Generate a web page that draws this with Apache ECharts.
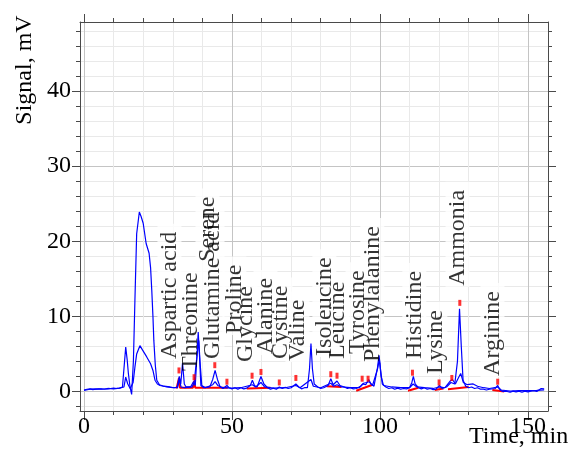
<!DOCTYPE html>
<html>
<head>
<meta charset="utf-8">
<title>Amino acid chromatogram</title>
<script src="https://cdn.jsdelivr.net/npm/echarts@6/dist/echarts.min.js"></script>
<style>
  html, body { margin: 0; padding: 0; background: #fff; }
  #chart { width: 572px; height: 451px; }
</style>
</head>
<body>
<div id="chart"></div>
<script>
"use strict";

// chromatogram trace, strong channel [time min, signal mV]
var traceMain = [
  [0, 0.2], [1, 0.3], [1.5, 0.2], [2, 0.35], [3, 0.25], [3.5, 0.4], [4, 0.3], [5, 0.35],
  [5.5, 0.2], [6, 0.35], [7, 0.3], [7.5, 0.45], [8, 0.35], [9, 0.4], [9.5, 0.3],
  [10, 0.45], [11, 0.4], [11.5, 0.55], [12, 0.45], [13, 0.6], [13.6, 0.8],
  [14.1, 5.9], [14.6, 4.2], [15, 2.4], [15.6, 0.5], [16.1, -0.4], [16.7, 4.1],
  [17.2, 12], [17.8, 21], [18.7, 23.9], [19.3, 23.3], [20, 22.4], [21, 19.7],
  [22, 18.4], [22.5, 16.5], [22.9, 13.5], [23.3, 10], [23.6, 6.8], [24.1, 3.5],
  [24.6, 1.5], [25.5, 0.9], [27, 0.7], [29, 0.6], [30.5, 0.5],
  [31.5, 0.6], [32.2, 2.0], [32.7, 1.0], [33.3, 3.8], [33.9, 1.0], [34.5, 0.6],
  [36, 0.6], [37, 1.3], [37.6, 0.8], [38.2, 5], [38.6, 7.9], [39, 5], [39.5, 0.8],
  [40.5, 0.5], [42.5, 0.6], [43.5, 1.6], [44.3, 2.8], [45.1, 1.6], [46, 0.6],
  [47, 0.4], [48.3, 0.8], [49, 0.5], [50, 0.35], [51, 0.5], [52, 0.3], [53, 0.5],
  [54, 0.35], [55, 0.45], [56.2, 0.8], [56.9, 1.5], [57.6, 0.8], [58.5, 0.6],
  [59.8, 2.0], [60.8, 1.0], [62, 0.5], [63, 0.3], [64, 0.45], [65, 0.3], [66, 0.6],
  [67, 0.4], [68, 0.55], [69, 0.4], [70, 0.5], [71.6, 1.0], [72.6, 0.6], [73.5, 0.35],
  [74.5, 0.5], [75.5, 0.5], [76.2, 3], [76.7, 6.4], [77.2, 3], [77.8, 1.0], [79, 0.6],
  [80, 0.4], [81, 0.5], [82.5, 0.8], [83.4, 1.7], [84.2, 0.9], [85.5, 1.4], [86.5, 0.8],
  [88, 0.6], [89, 0.4], [90, 0.5], [91, 0.35], [92, 0.4], [93.5, 0.7], [94.2, 1.0],
  [95.2, 0.9], [96.2, 1.6], [97, 1.0], [98, 0.7], [99.2, 3.2], [99.7, 4.8], [100.2, 3.0],
  [100.8, 1.0], [102, 0.6], [103, 0.4], [104, 0.5], [105, 0.3], [106, 0.45], [107, 0.3],
  [108, 0.4], [109, 0.35], [110, 0.5], [110.8, 1.2], [111.3, 2.0], [111.9, 1.0],
  [113, 0.5], [114, 0.35], [115, 0.5], [116, 0.3], [117, 0.4], [118, 0.25], [119, 0.3],
  [120.1, 0.8], [121, 0.4], [122.5, 0.6], [124, 1.2], [124.6, 1.4], [125.3, 1.0],
  [126.2, 4], [126.9, 11.0], [127.5, 6], [128.1, 1.5], [129, 0.7], [130, 0.5],
  [131, 0.6], [132, 0.4], [133, 0.5], [134, 0.3], [135, 0.3], [136, 0.2], [137, 0.3],
  [139, 0.4], [139.8, 0.8], [140.6, 0.2], [141.5, 0.0], [142, -0.1], [143, 0.0],
  [144, -0.1], [145, 0.05], [146, -0.05], [147, 0.05], [148, -0.1], [149, 0.05],
  [150, -0.05], [151, 0.05], [152, 0.1], [153, 0.0], [153.5, 0.05], [154.5, 0.4],
  [155.5, 0.35]
];

// second (weaker) channel
var traceSecond = [
  [0, 0.15], [2, 0.3], [4, 0.35], [6, 0.3], [8, 0.4], [10, 0.35], [12, 0.45],
  [13.5, 0.6], [14.1, 1.9], [14.8, 1.0], [15.6, 0.4], [16.6, 1.2], [17.2, 3.2],
  [17.8, 5.0], [18.9, 6.1], [19.8, 5.5], [21.2, 4.6], [22.5, 3.7], [23.3, 2.8],
  [24, 1.5], [24.8, 1.0], [25.7, 0.8], [28, 0.6], [30, 0.5], [31.6, 0.5],
  [32.2, 1.6], [32.8, 0.6], [34, 0.5], [36.5, 0.6], [37.2, 1.1], [37.8, 1.3],
  [38.4, 5.5], [38.8, 6.8], [39.2, 4], [39.8, 0.8], [41, 0.5], [43.5, 0.9],
  [44.3, 1.3], [45.2, 0.8], [47, 0.5], [50, 0.45], [53, 0.5], [56.9, 0.9], [58, 0.6],
  [59.8, 1.2], [61, 0.6], [64, 0.45], [68, 0.5], [71.6, 0.8], [73, 0.5], [76.7, 1.6],
  [77.5, 0.7], [80, 0.5], [83.4, 1.1], [84.3, 0.7], [85.5, 0.9], [87, 0.6], [90, 0.5],
  [93, 0.5], [94.5, 1.1], [95.5, 1.2], [96.3, 1.3], [97.5, 0.8], [99.2, 3.0],
  [99.8, 4.3], [100.4, 2.0], [101.2, 0.8], [104, 0.6], [107, 0.5], [110, 0.5],
  [111.2, 1.0], [112.5, 0.6], [115, 0.5], [118, 0.4], [120.1, 0.6], [122, 0.5],
  [123.8, 1.4], [124.5, 1.6], [125.5, 1.0], [126.5, 1.8], [127.3, 2.4], [128.2, 1.2],
  [129.5, 0.9], [131.5, 1.0], [133, 0.7], [135, 0.5], [137, 0.4], [139.8, 0.6],
  [141, 0.2], [144, 0.05], [147, 0.1], [150, 0.1], [153, 0.15], [155.5, 0.2]
];

// integration baselines (red), null breaks the segments
var baselines = [
  [31.3, 0.4], [31.8, 0.5], [32.1, 1.8], [32.4, 0.5], [36.8, 0.5], [37.2, 1.4],
  [37.6, 0.5], [44, 0.5], [48.6, 0.5], null,
  [55, 0.4], [63, 0.5], null,
  [82, 0.7], [87, 0.6], null,
  [92, 0.1], [97.5, 0.9], null,
  [109.5, 0.1], [113, 0.5], null,
  [118.5, 0.2], [121.5, 0.4], null,
  [123, 0.3], [130, 0.6], null,
  [138, 0.2], [142, 0.0]
];

// peak top markers
var peakMarks = [
  [32.1, 2.8], [37.2, 1.9], [44.2, 3.5], [48.3, 1.3], [56.8, 2.1], [59.8, 2.6],
  [66, 1.2], [71.6, 1.8], [83.4, 2.3], [85.5, 2.1], [94, 1.7], [96, 1.7],
  [111, 2.5], [120, 1.2], [124.3, 1.8], [127, 11.8], [139.8, 1.3]
];

// peak names and where their text starts
var peakNames = [
  "Aspartic acid", "Threonine", "Serene", "Glutamine acid", "Proline", "Glycine",
  "Alanine", "Cystine", "Valine", "Isoleucine", "Leucine", "Tyrosine",
  "Phenylalanine", "Histidine", "Lysine", "Ammonia", "Arginine"
];
var nameAnchors = [
  [29.05, 4.13], [36.1, 2.53], [41.9, 17.07], [43.6, 4.13], [51.0, 7.47],
  [54.7, 3.73], [61.5, 4.8], [66.6, 4.13], [72.3, 3.87], [81.4, 4.53],
  [85.8, 4.13], [92.6, 4.8], [97.6, 3.73], [111.8, 4.13], [118.9, 2.13],
  [126.4, 13.87], [138.2, 1.87]
];

// axis ticks
var xMinorTicks = [0, 10, 20, 30, 40, 50, 60, 70, 80, 90, 100, 110, 120, 130, 140, 150];
var xMajorTicks = [0, 50, 100, 150];
var yMinorTicks = [-2, 0, 2, 4, 6, 8, 10, 12, 14, 16, 18, 20, 22, 24, 26, 28, 30,
  32, 34, 36, 38, 40, 42, 44, 46, 48];
var yMajorTicks = [0, 10, 20, 30, 40];

var X_MIN = -1.35, X_MAX = 156.8;
var Y_MIN = -2.6, Y_MAX = 49.2;
var SERIF = "'Liberation Serif', 'Times New Roman', Times, serif";
var FRAME = "#4a4a4a";

function makeAxis(kind, position, ticks, tickLen, showLine, labels, splitColor) {
  return {
    type: "value",
    position: position,
    min: kind === "x" ? X_MIN : Y_MIN,
    max: kind === "x" ? X_MAX : Y_MAX,
    axisLine: { show: showLine, onZero: false, lineStyle: { color: FRAME, width: 1 } },
    axisTick: {
      show: true,
      inside: false,
      length: tickLen,
      customValues: ticks,
      lineStyle: { color: FRAME, width: 1 }
    },
    axisLabel: labels
      ? {
          show: true,
          customValues: labels,
          fontFamily: SERIF,
          fontSize: 24,
          color: "#000",
          margin: kind === "x" ? 4 : 9
        }
      : { show: false },
    splitLine: splitColor
      ? { show: true, lineStyle: { color: splitColor, width: 1 } }
      : { show: false }
  };
}

// rotated peak name label; the white box layer and the text layer are separate
// so that boxes never hide a neighbour's text
function nameLabel(textColor, bg) {
  return {
    show: true,
    formatter: "{b}",
    position: [0, 0],
    rotate: 90,
    align: "left",
    verticalAlign: "middle",
    fontFamily: SERIF,
    fontSize: 24,
    color: textColor,
    backgroundColor: bg,
    padding: [0, 8, 0, 1]
  };
}

var nameData = nameAnchors.map(function (p, i) {
  return { value: p, name: peakNames[i] };
});

var chart = echarts.init(document.getElementById("chart"), null, { renderer: "canvas" });

chart.setOption({
  animation: false,
  backgroundColor: "#fff",
  grid: { left: 80, right: 24, top: 22, bottom: 40, containLabel: false },
  xAxis: [
    makeAxis("x", "bottom", xMinorTicks, 4, true, xMajorTicks, "#e9e9e9"),
    makeAxis("x", "bottom", xMajorTicks, 9, false, null, "#c4c4c4"),
    makeAxis("x", "top", xMinorTicks, 4, true, null, null),
    makeAxis("x", "top", xMajorTicks, 8, false, null, null)
  ],
  yAxis: [
    makeAxis("y", "left", yMinorTicks, 4, true, yMajorTicks, "#e9e9e9"),
    makeAxis("y", "left", yMajorTicks, 8, false, null, "#c4c4c4"),
    makeAxis("y", "right", yMinorTicks, 4, true, null, null),
    makeAxis("y", "right", yMajorTicks, 8, false, null, null)
  ],
  graphic: [
    {
      type: "text",
      x: 25,
      y: 70,
      rotation: Math.PI / 2,
      style: {
        text: "Signal, mV",
        font: "24px " + SERIF,
        fill: "#000",
        align: "center",
        verticalAlign: "middle"
      }
    },
    {
      type: "text",
      x: 469,
      y: 437,
      style: {
        text: "Time, min",
        font: "24px " + SERIF,
        fill: "#000",
        align: "left",
        verticalAlign: "middle"
      }
    }
  ],
  series: [
    {
      name: "name boxes",
      type: "scatter",
      data: nameData,
      symbolSize: 1,
      itemStyle: { color: "rgba(0,0,0,0)" },
      label: nameLabel("rgba(0,0,0,0)", "#fff"),
      silent: true,
      z: 2
    },
    {
      name: "baseline",
      type: "line",
      data: baselines,
      showSymbol: false,
      connectNulls: false,
      lineStyle: { color: "#ff0000", width: 2 },
      z: 3
    },
    {
      name: "channel 2",
      type: "line",
      data: traceSecond,
      showSymbol: false,
      lineStyle: { color: "#0000ff", width: 1.2 },
      z: 4
    },
    {
      name: "channel 1",
      type: "line",
      data: traceMain,
      showSymbol: false,
      lineStyle: { color: "#0000ff", width: 1.2 },
      z: 4
    },
    {
      name: "names",
      type: "scatter",
      data: nameData,
      symbolSize: 1,
      itemStyle: { color: "rgba(0,0,0,0)" },
      label: nameLabel("#000", null),
      z: 5
    },
    {
      name: "peaks",
      type: "scatter",
      data: peakMarks,
      symbol: "rect",
      symbolSize: [3, 6],
      itemStyle: { color: "#ff0000" },
      z: 6
    }
  ]
});
</script>
</body>
</html>
